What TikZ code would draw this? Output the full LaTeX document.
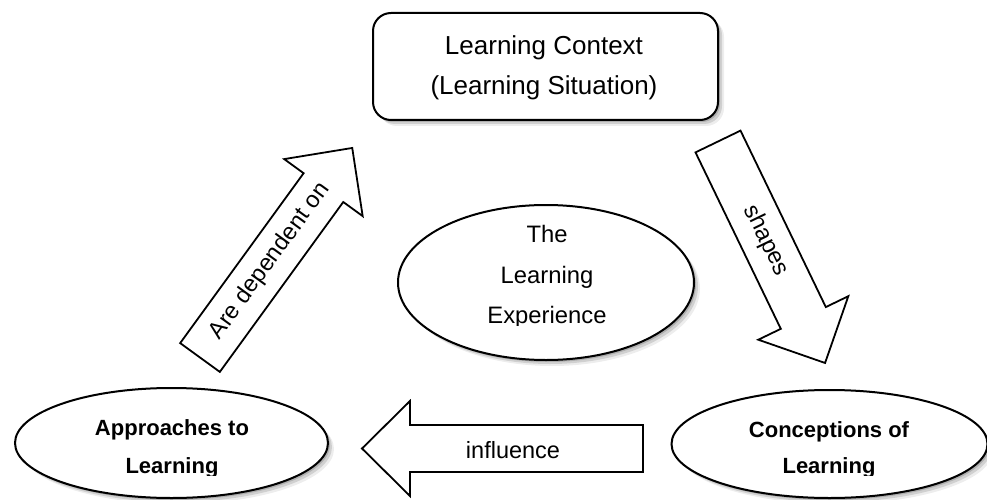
\documentclass[tikz,border=0pt]{standalone}
\usepackage{fontspec}
\setmainfont{Liberation Sans}
\usetikzlibrary{shapes.geometric,shadows}
\begin{document}
\begin{tikzpicture}[x=1pt,y=-1pt,
  softshadow/.style={
    drop shadow={shadow xshift=2pt,shadow yshift=-2pt,opacity=0.16,fill=black},
    drop shadow={shadow xshift=4pt,shadow yshift=-4pt,opacity=0.12,fill=black},
    drop shadow={shadow xshift=6pt,shadow yshift=-6pt,opacity=0.07,fill=black}},
  outline/.style={draw=black,line width=2pt,fill=white},
  ctxbox/.style={outline,softshadow,rounded corners=18pt,inner sep=0pt,
    minimum width=345pt,minimum height=107pt},
  oval/.style={outline,softshadow,ellipse,inner sep=0pt},
  blockarrow/.style={draw=black,line width=1.8pt,fill=white,line join=miter},
  biglbl/.style={font=\fontsize{26}{30}\selectfont,anchor=base,inner sep=0pt},
  midlbl/.style={font=\fontsize{23.8}{28}\selectfont,anchor=base,inner sep=0pt},
  boldlbl/.style={font=\fontsize{22}{26}\selectfont\bfseries,anchor=base,inner sep=0pt},
  arrowtext/.style={font=\fontsize{23.5}{28}\selectfont,inner sep=0pt}]
\useasboundingbox (0,0) rectangle (987,500);

% Learning context box
\node[ctxbox] (ctx) at (545.5,66.5) {};
\node[biglbl] (ctxa) at (544,55) {Learning Context};
\node[biglbl] (ctxb) at (544,95) {(Learning Situation)};

% central ellipse
\node[oval,minimum width=296pt,minimum height=155pt] (exp) at (546,282.5) {};
\node[midlbl] (expa) at (547,242) {The};
\node[midlbl] (expb) at (547,283) {Learning};
\begin{scope}
  \clip (420,295) rectangle (680,325);
  \node[midlbl] (expc) at (547,323) {Experience};
\end{scope}

% approaches
\node[oval,minimum width=313pt,minimum height=110pt] (appr) at (171.5,443) {};
\node[boldlbl] (appra) at (172,435) {Approaches to};
\begin{scope}
  \clip (20,445) rectangle (320,475);
  \node[boldlbl] (apprb) at (172,473) {Learning};
\end{scope}

% conceptions
\node[oval,minimum width=316pt,minimum height=108pt] (conc) at (829.5,444) {};
\node[boldlbl] (conca) at (829,437) {Conceptions of};
\begin{scope}
  \clip (680,445) rectangle (987,475);
  \node[boldlbl] (concb) at (829,473) {Learning};
\end{scope}

% arrow: Are dependent on
\begin{scope}[shift={(200,357.5)},rotate=54]
  \draw[blockarrow] (0,-24.5) -- (210,-24.5) -- (210,-48.5) -- (259,0)
    -- (210,48.5) -- (210,24.5) -- (0,24.5) -- cycle;
  \node[arrowtext,rotate=54] (dep) at (119,0) {Are dependent on};
\end{scope}

% arrow: shapes
\begin{scope}[shift={(718,141.5)},rotate=-64.2]
  \draw[blockarrow] (0,-25) -- (196,-25) -- (196,-50) -- (246,0)
    -- (196,50) -- (196,25) -- (0,25) -- cycle;
  \node[arrowtext,rotate=-64.2] (shp) at (110,0) {shapes};
\end{scope}

% arrow: influence
\begin{scope}[shift={(643,448.5)},rotate=180]
  \draw[blockarrow] (0,-23.5) -- (233,-23.5) -- (233,-47.5) -- (281,0)
    -- (233,47.5) -- (233,23.5) -- (0,23.5) -- cycle;
  \node[arrowtext] (inf) at (130,-2) {influence};
\end{scope}
\end{tikzpicture}
\end{document}
